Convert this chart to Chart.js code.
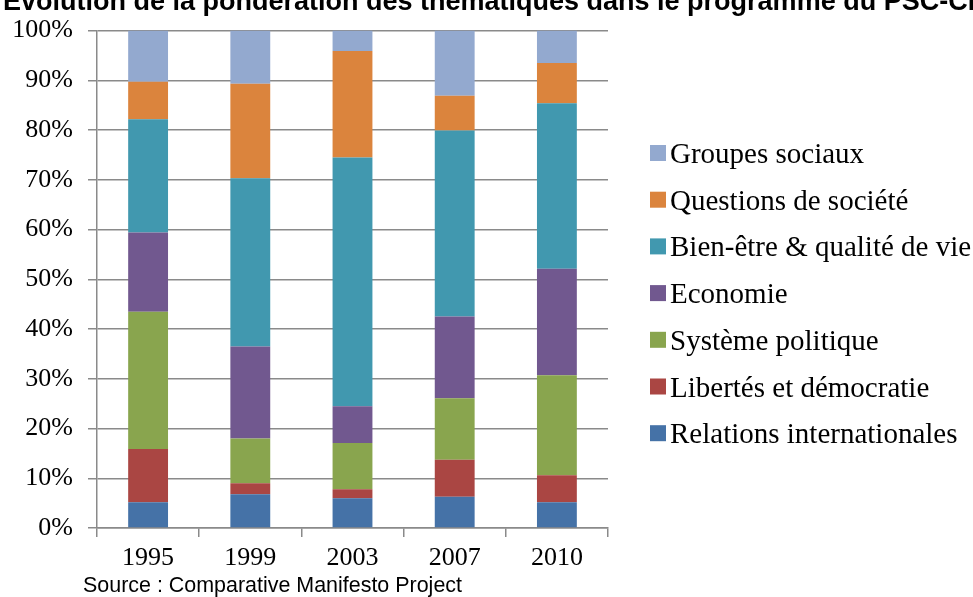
<!DOCTYPE html>
<html><head><meta charset="utf-8">
<script src="https://cdn.jsdelivr.net/npm/chart.js@4"></script>
<style>
html,body{margin:0;padding:0;background:#fff;overflow:hidden;width:973px;height:597px;position:relative}
#c{position:absolute;left:0;top:0}
#title{position:absolute;left:3px;top:-12px;font:bold 27px "Liberation Sans",Arial,sans-serif;line-height:27px;white-space:nowrap;color:#000}
#source{position:absolute;left:83px;top:574px;font:22.5px "Liberation Sans",Arial,sans-serif;line-height:22px;white-space:nowrap;color:#000;transform:scaleX(0.953);transform-origin:0 0}
</style>
</head><body>
<canvas id="c" width="973" height="597"></canvas>
<div id="title">Evolution de la pondération des thématiques dans le programme du PSC-CDH</div>
<div id="source">Source : Comparative Manifesto Project</div>
<script>
const years = ['1995','1999','2003','2007','2010'];
const relationsInternationales = [5.2, 6.8, 6.0, 6.3, 5.2];
const libertesDemocratie       = [10.7, 2.2, 1.8, 7.4, 5.4];
const systemePolitique         = [27.6, 9.0, 9.3, 12.4, 20.1];
const economie                 = [15.9, 18.5, 7.4, 16.4, 21.4];
const bienEtre                 = [22.8, 33.8, 50.0, 37.4, 33.3];
const questionsSociete         = [7.5, 19.0, 21.4, 7.0, 8.1];
const groupesSociaux           = [10.3, 10.7, 4.1, 13.1, 6.5];
const yTicks = [0,10,20,30,40,50,60,70,80,90,100];

const series = [
  {label:'Relations internationales', data:relationsInternationales, color:'#4572A7'},
  {label:'Libertés et démocratie', data:libertesDemocratie, color:'#AA4643'},
  {label:'Système politique', data:systemePolitique, color:'#89A54E'},
  {label:'Economie', data:economie, color:'#71588F'},
  {label:'Bien-être & qualité de vie', data:bienEtre, color:'#4198AF'},
  {label:'Questions de société', data:questionsSociete, color:'#DB843D'},
  {label:'Groupes sociaux', data:groupesSociaux, color:'#93A9CF'}
];

const sideLegend = {
  id:'sideLegend',
  afterDraw(chart){
    const ctx = chart.ctx, ds = chart.data.datasets, n = ds.length;
    const x0 = chart.chartArea.right + 42;
    ctx.save();
    ctx.font = '29px "Liberation Serif", "Times New Roman", serif';
    ctx.textBaseline = 'alphabetic';
    for (let i = 0; i < n; i++) {
      const d = ds[n-1-i];
      const cy = 153 + i*46.7;
      ctx.fillStyle = d.backgroundColor;
      ctx.fillRect(x0, cy-8, 16, 16);
      ctx.fillStyle = '#000';
      ctx.fillText(d.label, x0+20, cy+10);
    }
    ctx.restore();
  }
};

new Chart(document.getElementById('c'), {
  type:'bar',
  data:{
    labels: years,
    datasets: series.map(s => ({label:s.label, data:s.data, backgroundColor:s.color, borderWidth:0, categoryPercentage:1, barPercentage:0.39}))
  },
  options:{
    responsive:false,
    animation:false,
    layout:{padding:{top:25,right:365,left:0,bottom:0}},
    plugins:{legend:{display:false}, tooltip:{enabled:false}, title:{display:false}},
    scales:{
      x:{
        stacked:true,
        afterFit(s){ s.height = 69; },
        grid:{drawOnChartArea:false, drawTicks:true, tickLength:9, color:'#8a8a8a', lineWidth:1.5},
        border:{display:true, color:'#8a8a8a', width:1.5},
        ticks:{color:'#000', padding:6, font:{family:'"Liberation Serif", "Times New Roman", serif', size:26}}
      },
      y:{
        stacked:true, min:0, max:100,
        afterFit(s){ s.width = 97; },
        afterBuildTicks(s){ s.ticks = yTicks.map(v => ({value:v})); },
        grid:{color:'#8a8a8a', lineWidth:1.5, tickLength:9},
        border:{display:true, color:'#8a8a8a', width:1.5},
        ticks:{color:'#000', padding:15, callback:v => v + '%', font:{family:'"Liberation Serif", "Times New Roman", serif', size:26}}
      }
    }
  },
  plugins:[sideLegend]
});
</script>
</body></html>
